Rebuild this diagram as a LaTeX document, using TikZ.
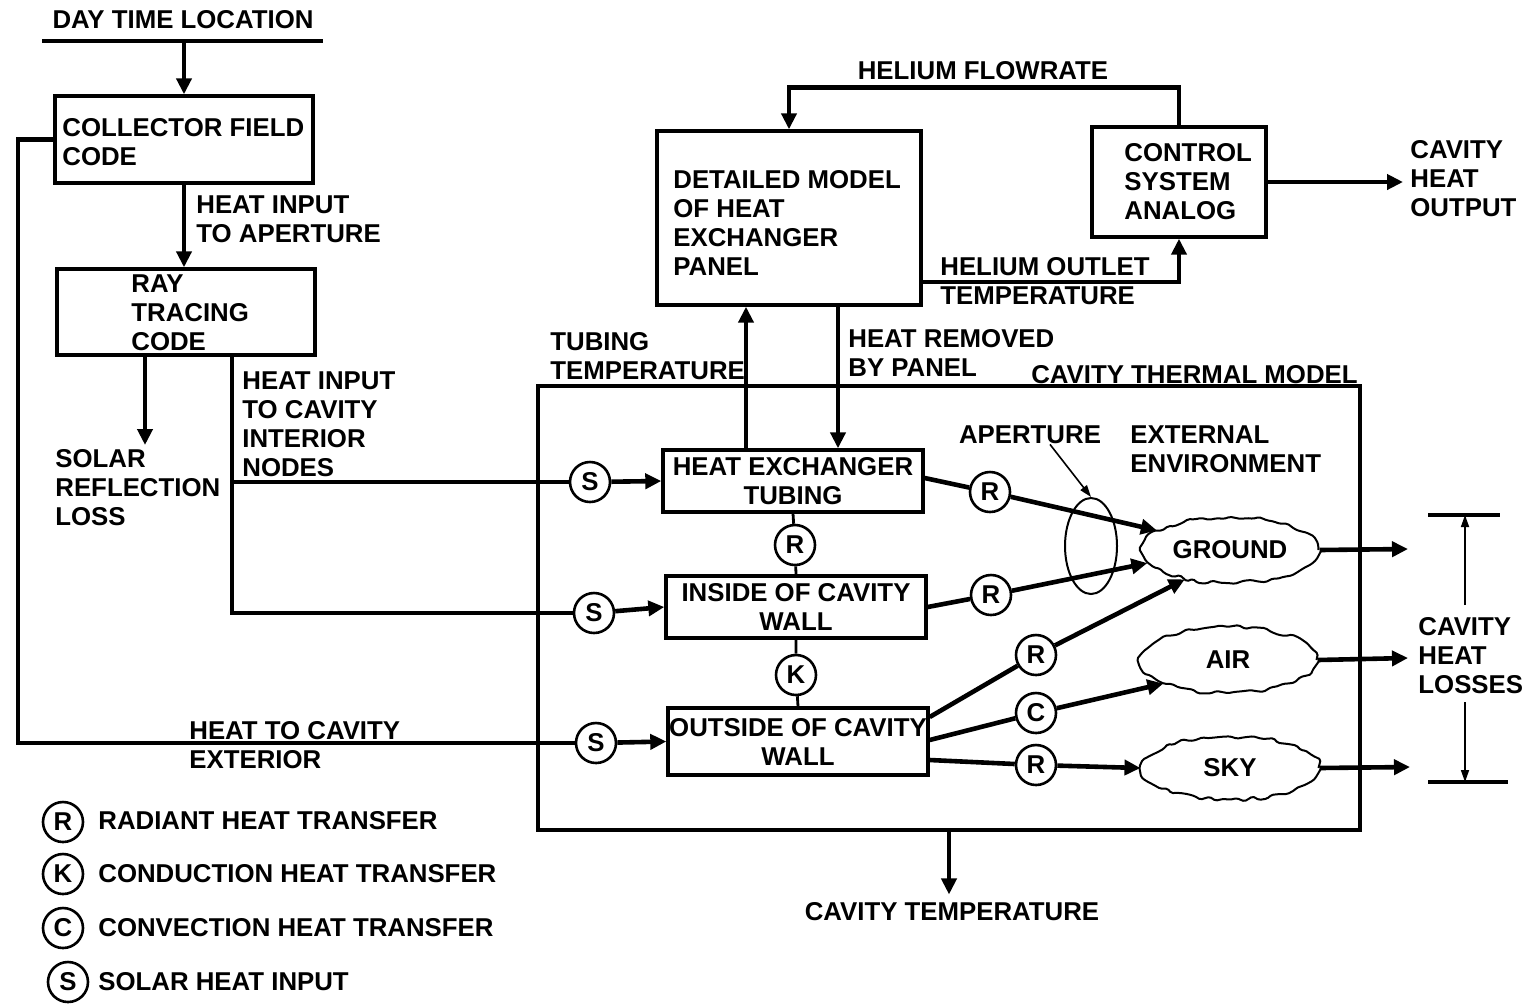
\documentclass[tikz,border=0pt]{standalone}
\usepackage{fontspec}
\newfontfamily\lblfont{Liberation Sans}
\usetikzlibrary{arrows.meta,shapes.geometric,decorations.pathmorphing,calc}
\newcommand{\lblf}{\lblfont\bfseries\fontsize{12.9}{14.5}\selectfont}
\begin{document}
\begin{tikzpicture}[x=0.5pt,y=-0.5pt,
  lbl/.style={font=\lblf, inner sep=0pt, align=left},
  boxn/.style={draw, line width=1.7pt, inner sep=0pt},
  cbox/.style={boxn, align=center, font=\lblf},
  flow/.style={line width=2.3pt},
  arr/.style={flow, -{Triangle[length=8pt,width=7.5pt]}},
  thinarr/.style={line width=0.8pt, -{Triangle[length=6pt,width=4pt]}},
  link/.style={line width=1.4pt},
  ring/.style={circle, draw, line width=1.3pt, fill=white, minimum size=20pt, inner sep=0pt, font=\lblf},
  cloudn/.style={ellipse, draw, line width=1pt, decorate, decoration={random steps,segment length=3.5pt,amplitude=1.1pt}, rounded corners=0.8pt, inner sep=0pt, minimum width=88.5pt, minimum height=33pt, font=\lblf},
]
\pgfmathsetseed{7}
\useasboundingbox (0,0) rectangle (1525,1003);

% ---------- left column ----------
\node[lbl, anchor=center] (dtl) at (183,20) {DAY TIME LOCATION};
\coordinate (dtla) at (42,41);
\coordinate (dtlb) at (323,41);
\coordinate (dtlm) at (184,41);
\draw[flow] (dtla) -- (dtlb);

\node[boxn, minimum width=129pt, minimum height=43.5pt] (cf) at (184,139.5) {};
\node[lbl, anchor=west] (cft) at (62,142.5) {COLLECTOR FIELD\\CODE};
\draw[arr] (dtlm) -- (cf.north);

\node[boxn, minimum width=129pt, minimum height=43pt] (ray) at (186,312) {};
\node[lbl, anchor=west] (rayt) at (131,313) {RAY\\TRACING\\CODE};
\draw[arr] (cf.south) -- (cf.south |- ray.north);
\node[lbl, anchor=west] (hia) at (196,219.5) {HEAT INPUT\\TO APERTURE};

\coordinate (srl) at (145,445);
\draw[arr] (ray.south -| srl) -- (srl);
\node[lbl, anchor=west] (srlt) at (55,488) {SOLAR\\REFLECTION\\LOSS};

\node[lbl, anchor=west] (hic) at (242,424) {HEAT INPUT\\TO CAVITY\\INTERIOR\\NODES};
\node[lbl, anchor=west] (htc) at (189,745) {HEAT TO CAVITY\\EXTERIOR};

% ---------- cavity thermal model ----------
\node[boxn, minimum width=411pt, minimum height=222pt] (cav) at (949,608) {};
\node[lbl, anchor=east] (cavt) at (1358,375) {CAVITY THERMAL MODEL};

\node[cbox, minimum width=130pt, minimum height=31pt] (hx) at (793,481) {HEAT EXCHANGER\\TUBING};
\node[cbox, minimum width=130pt, minimum height=31pt] (ins) at (796,607) {INSIDE OF CAVITY\\WALL};
\node[cbox, minimum width=130pt, minimum height=33.5pt] (outs) at (798,741.5) {OUTSIDE OF CAVITY\\WALL};

\node[ring] (S1) at (590,482) {S};
\node[ring] (S2) at (594,613) {S};
\node[ring] (S3) at (596,743) {S};
\node[ring] (Rv) at (795,545) {R};
\node[ring] (Kv) at (796,675) {K};
\node[ring] (R1) at (990,492) {R};
\node[ring] (R2) at (991,595) {R};
\node[ring] (R3) at (1036,655) {R};
\node[ring] (Cc) at (1036,713) {C};
\node[ring] (R4) at (1036,765) {R};

\coordinate (hi) at (232,613);
\draw[flow] (ray.south -| hi) -- (hi) -- (S2);
\draw[flow] (hi |- S1) -- (S1);
\coordinate (lft) at (18,743);
\draw[flow] (cf.west) -| (lft) -- (S3);

\draw[arr] (S1) -- (hx.west);
\draw[arr] (S2) -- (ins.west);
\draw[arr] (S3) -- (outs.west);

\draw[link] (hx.south) -- (Rv) -- (ins.north);
\draw[link] (ins.south) -- (Kv) -- (outs.north);

% ---------- external environment ----------
\node[lbl, anchor=center] (apt) at (1030,435) {APERTURE};
\node[lbl, anchor=west] (ext) at (1130,449.5) {EXTERNAL\\ENVIRONMENT};
\node[ellipse, draw, line width=1pt, minimum width=26pt, minimum height=48pt, inner sep=0pt] (ap) at (1091,546) {};
\draw[thinarr] ([xshift=10pt]apt.south) -- (ap.north);

\node[cloudn] (gnd) at (1230,550) {GROUND};
\node[cloudn] (air) at (1228,660) {AIR};
\node[cloudn, minimum height=31.5pt] (sky) at (1230,768) {SKY};

\draw[flow] ([yshift=1.5pt]hx.east) -- (R1);
\draw[arr] (R1) -- (gnd.165);
\draw[flow] (ins.east) -- (R2);
\draw[arr] (R2) -- (gnd.189);
\draw[flow] ([yshift=12.25pt]outs.east) -- (R3);
\draw[arr] (R3) -- (gnd.213);
\draw[flow] ([yshift=0.75pt]outs.east) -- (Cc);
\draw[arr] (Cc) -- (air.200);
\draw[flow] ([yshift=-9.25pt]outs.east) -- (R4);
\draw[arr] (R4) -- (sky.west);

\coordinate (go) at (1408,549);
\coordinate (ao) at (1408,658);
\coordinate (so) at (1410,767);
\draw[arr] (gnd.east) -- (go);
\draw[arr] (air.east) -- (ao);
\draw[arr] (sky.east) -- (so);

\coordinate (bt1) at (1428,515);
\coordinate (bt2) at (1500,515);
\coordinate (bb1) at (1428,782);
\coordinate (bb2) at (1508,782);
\draw[line width=1.6pt] (bt1) -- (bt2);
\draw[line width=1.6pt] (bb1) -- (bb2);
\coordinate (bvt) at (1465,515);
\coordinate (bvb) at (1465,782);
\coordinate (bvt0) at (1465,605);
\coordinate (bvb0) at (1465,702);
\node[lbl, anchor=west] (chl) at (1418,656) {CAVITY\\HEAT\\LOSSES};
\draw[thinarr] (bvt0) -- (bvt);
\draw[thinarr] (bvb0) -- (bvb);

\node[lbl, anchor=center] (ctmp) at (952,912) {CAVITY TEMPERATURE};
\draw[arr, shorten >=4pt] (cav.south) -- (cav.south |- ctmp.north);

% ---------- heat exchanger panel & control ----------
\node[boxn, minimum width=132pt, minimum height=87pt] (det) at (789,218) {};
\node[lbl, anchor=west] (dett) at (673,223) {DETAILED MODEL\\OF HEAT\\EXCHANGER\\PANEL};
\node[boxn, minimum width=87pt, minimum height=55pt] (ctrl) at (1179,182) {};
\node[lbl, anchor=west] (ctrlt) at (1124,181.5) {CONTROL\\SYSTEM\\ANALOG};

\draw[arr] ([xshift=-23.5pt]hx.north) -- ([xshift=-23.5pt]hx.north |- det.south);
\draw[arr] ([xshift=22.5pt]hx.north |- det.south) -- ([xshift=22.5pt]hx.north);
\node[lbl, anchor=west] (tt) at (550,356.5) {TUBING\\TEMPERATURE};
\node[lbl, anchor=west] (hr) at (848,352.5) {HEAT REMOVED\\BY PANEL};

\draw[arr] (ctrl.north) -- ++(0,-38) -| (det.north);
\node[lbl, anchor=center] (hf) at (983,71) {HELIUM FLOWRATE};

\draw[arr] ([yshift=-32pt]det.east) -| (ctrl.south);
\node[lbl, anchor=west] (hot) at (940,281.5) {HELIUM OUTLET\\TEMPERATURE};

\coordinate (cho) at (1403,182);
\draw[arr] (ctrl.east) -- (cho);
\node[lbl, anchor=west] (chot) at (1410,179) {CAVITY\\HEAT\\OUTPUT};

% ---------- legend ----------
\node[ring] (lR) at (63,822) {R};
\node[ring] (lK) at (63,874) {K};
\node[ring] (lC) at (63,928) {C};
\node[ring] (lS) at (68,982) {S};
\node[lbl, anchor=west] (lRt) at (98,821) {RADIANT HEAT TRANSFER};
\node[lbl, anchor=west] (lKt) at (98,874) {CONDUCTION HEAT TRANSFER};
\node[lbl, anchor=west] (lCt) at (98,928) {CONVECTION HEAT TRANSFER};
\node[lbl, anchor=west] (lSt) at (98,982) {SOLAR HEAT INPUT};
\end{tikzpicture}
\end{document}
